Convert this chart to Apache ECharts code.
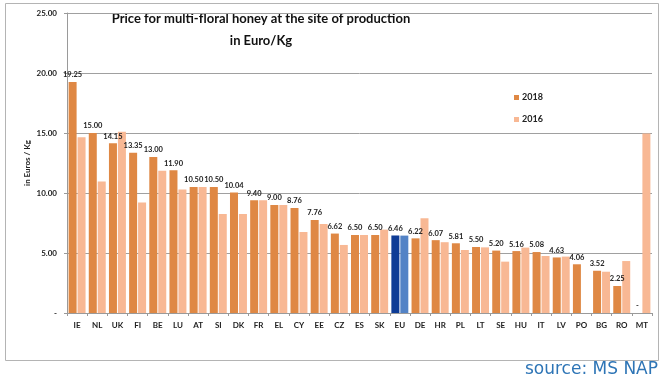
<!DOCTYPE html>
<html>
<head>
<meta charset="utf-8">
<script src="https://cdn.jsdelivr.net/npm/echarts@6/dist/echarts.min.js"></script>
<style>
html,body{margin:0;padding:0;background:#fff;}
#c{width:664px;height:378px;}
</style>
</head>
<body>
<div id="c"></div>
<script>
var categories = ['IE','NL','UK','FI','BE','LU','AT','SI','DK','FR','EL','CY','EE','CZ','ES','SK','EU','DE','HR','PL','LT','SE','HU','IT','LV','PO','BG','RO','MT'];
var values2018 = [19.25,15.00,14.15,13.35,13.00,11.90,10.50,10.50,10.04,9.40,9.00,8.76,7.76,6.62,6.50,6.50,6.46,6.22,6.07,5.81,5.50,5.20,5.16,5.08,4.63,4.06,3.52,2.25,0];
var values2016 = [14.65,10.95,15.10,9.20,11.85,10.30,10.50,8.25,8.25,9.40,9.00,6.75,7.42,5.67,6.50,6.95,6.45,7.90,5.90,5.25,5.47,4.28,5.45,4.75,4.70,null,3.44,4.33,14.95];
var yTicks = [0,5,10,15,20,25];
var seriesNames = ['2018','2016'];

var FONT = 'Lato';
var C18 = '#DF8844', C16 = '#F8B894';
var EU18 = '#0E3C96', EU16 = '#5383C6';

function build(vals, eu) {
  return vals.map(function (v, i) {
    if (categories[i] === 'EU') return { value: v, itemStyle: { color: eu } };
    return v;
  });
}

var chart = echarts.init(document.getElementById('c'), null, { renderer: 'canvas' });
chart.setOption({
  animation: false,
  backgroundColor: '#fff',
  textStyle: { fontFamily: FONT },
  graphic: [
    { type: 'rect', shape: { x: 5.5, y: 3.5, width: 653, height: 357 }, style: { fill: 'none', stroke: '#b4b4b4', lineWidth: 1 }, z: -1 },
    { type: 'text', x: 261, y: 12, style: { text: 'Price for multi-floral honey at the site of production', font: 'bold 13px Lato', fill: '#111', textAlign: 'center' } },
    { type: 'text', x: 261, y: 34, style: { text: 'in Euro/Kg', font: 'bold 13px Lato', fill: '#111', textAlign: 'center' } },
    { type: 'text', right: 6, top: 361, style: { text: 'source: MS NAP', font: '17px "DejaVu Sans"', fill: '#2E75B6' } }
  ],
  legend: {
    orient: 'vertical',
    left: 509,
    top: 88,
    itemWidth: 5,
    itemHeight: 5,
    itemGap: 13,
    icon: 'rect',
    data: seriesNames,
    textStyle: { fontFamily: FONT, fontWeight: 'bold', fontSize: 9, color: '#222', padding: [0, 0, 0, -2] }
  },
  grid: { left: 67, right: 12, top: 13, bottom: 65, containLabel: false },
  xAxis: {
    type: 'category',
    data: categories,
    axisLine: { lineStyle: { color: '#9a9a9a' } },
    axisTick: { show: true, length: 3, lineStyle: { color: '#9a9a9a' } },
    axisLabel: { fontFamily: FONT, fontWeight: 'bold', fontSize: 8, color: '#222', margin: 8, interval: 0 }
  },
  yAxis: {
    type: 'value',
    min: 0, max: 25, interval: 5,
    name: 'in Euros / Kg',
    nameLocation: 'middle',
    nameGap: 36,
    nameMoveOverlap: false,
    nameRotate: 90,
    nameTextStyle: { fontFamily: FONT, fontWeight: 'bold', fontSize: 8, color: '#222' },
    axisLine: { show: true, lineStyle: { color: '#9a9a9a' } },
    axisTick: { show: true, length: 3, lineStyle: { color: '#9a9a9a' } },
    splitLine: { lineStyle: { color: '#a0a0a0' } },
    axisLabel: {
      fontFamily: FONT, fontWeight: 'bold', fontSize: 8, color: '#222', margin: 10,
      formatter: function (v) { return v === yTicks[0] ? '-' : v.toFixed(2); }
    }
  },
  series: [
    {
      name: seriesNames[0], type: 'bar', barWidth: 8, barGap: '12%',
      itemStyle: { color: C18 },
      data: build(values2018, EU18),
      label: {
        show: true, position: 'top', distance: 3,
        fontFamily: FONT, fontWeight: 'bold', fontSize: 7.5, color: '#222',
        formatter: function (p) { return p.value === 0 ? '-' : Number(p.value).toFixed(2); }
      }
    },
    {
      name: seriesNames[1], type: 'bar', barWidth: 8, barGap: '12%',
      itemStyle: { color: C16 },
      data: build(values2016, EU16)
    }
  ]
});
</script>
</body>
</html>
